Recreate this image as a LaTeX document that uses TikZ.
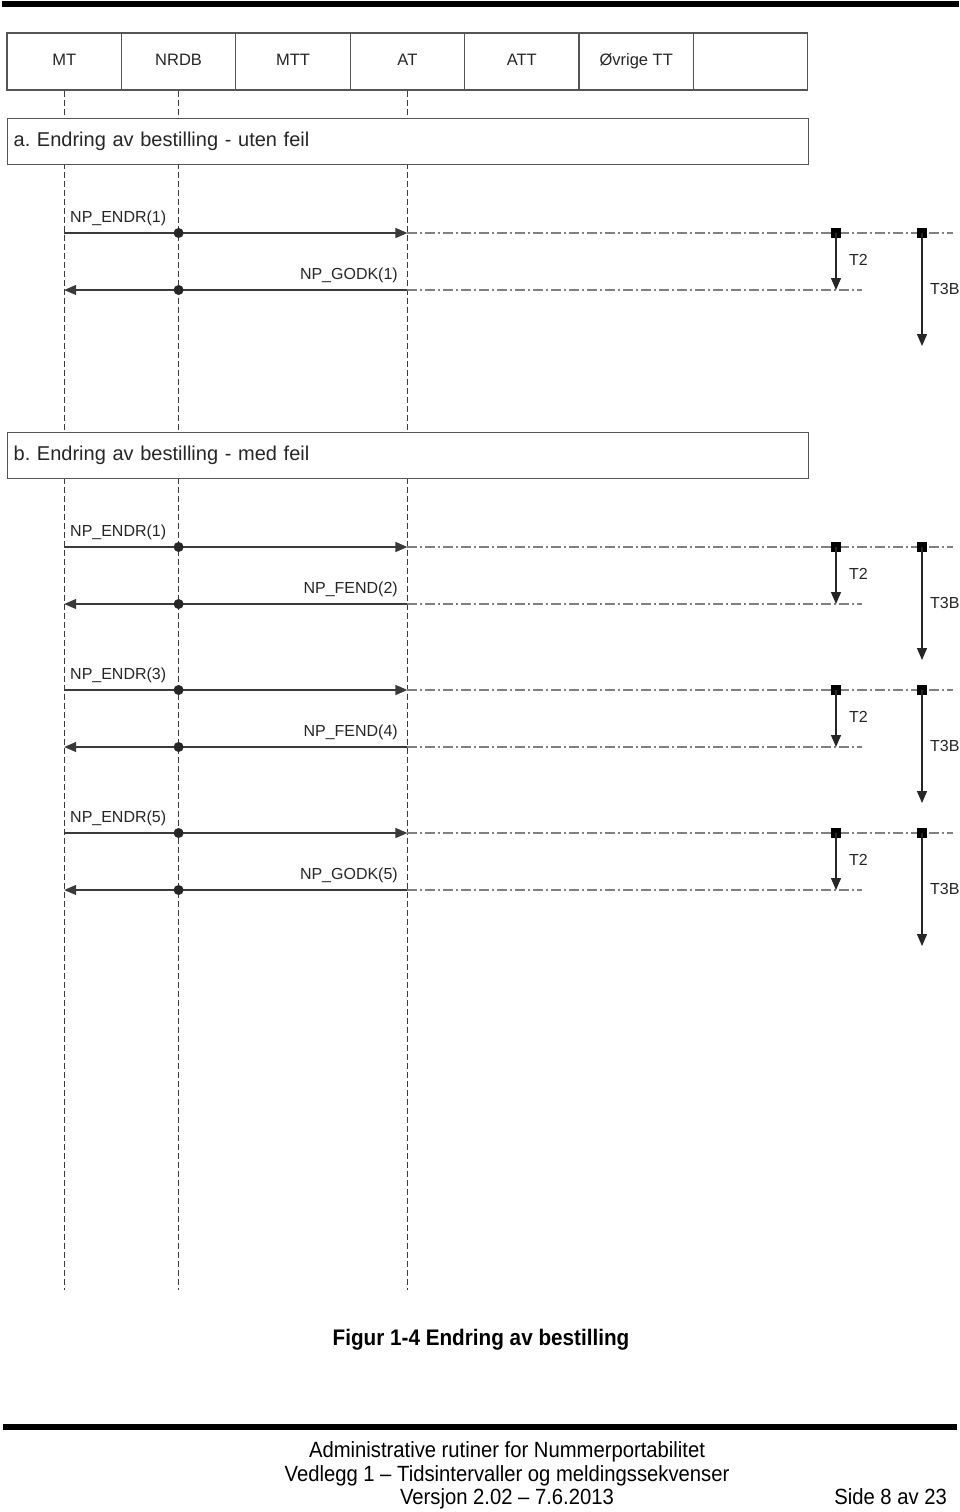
\documentclass[tikz,border=0pt]{standalone}
\usepackage{fontspec}
\setmainfont{Liberation Sans}
\newfontfamily\narrowfont{Liberation Sans}[FakeStretch=0.92]
\usetikzlibrary{arrows.meta}
\definecolor{ln}{HTML}{3A3A3A}
\definecolor{bx}{HTML}{555555}
\definecolor{txt}{HTML}{262626}
\frenchspacing
\begin{document}
\begin{tikzpicture}[x=1pt,y=-1pt,
 hdr/.style={draw=bx,line width=1.3pt,minimum width=114.4pt,minimum height=57pt,inner sep=0pt,text height=12pt,text depth=3.5pt,font=\fontsize{16.5}{16.5}\selectfont,text=txt},
 sect/.style={draw=bx,line width=1.3pt,fill=white,minimum height=46pt,text width=789pt,align=left,inner xsep=6pt,inner ysep=0pt,font=\fontsize{20}{20}\selectfont,text=txt},
 life/.style={draw=ln,line width=1.4pt,dash pattern=on 6pt off 3pt},
 msg/.style={draw=ln,line width=1.4pt,-{Triangle[length=12pt,width=10pt]}},
 dd/.style={draw=gray,line width=1.2pt,dash pattern=on 10pt off 3pt on 2pt off 3pt},
 dotn/.style={circle,fill=black!85,inner sep=0pt,minimum size=10pt},
 sqn/.style={rectangle,fill=black,inner sep=0pt,minimum size=10pt},
 tmr/.style={draw=black!85,line width=1.3pt,-{Triangle[length=12pt,width=10pt]}},
 lbl/.style={font=\fontsize{16}{16}\selectfont,inner sep=0pt,text=txt},
 tlbl/.style={font=\fontsize{16}{16}\selectfont,inner sep=0pt,text=txt,anchor=west},
 foot/.style={font=\narrowfont\fontsize{22}{22}\selectfont,inner sep=0pt,text height=16pt,text depth=4.5pt}
]
\useasboundingbox (0,0) rectangle (960,1512);
\fill[white] (0,0) rectangle (960,1512);
% page bars
\fill[black] (2,1) rectangle (959,7);
\fill[black] (3,1424) rectangle (957,1430);
% header
\node[hdr] (h1) at (64.2,61.5) {MT};
\node[hdr] (h2) at (178.6,61.5) {NRDB};
\node[hdr] (h3) at (293.0,61.5) {MTT};
\node[hdr] (h4) at (407.4,61.5) {AT};
\node[hdr] (h5) at (521.8,61.5) {ATT};
\node[hdr] (h6) at (636.2,61.5) {Øvrige TT};
\node[hdr] (h7) at (750.6,61.5) {};
% lifelines
\coordinate (e1) at (64.2,1290);
\coordinate (e2) at (178.6,1290);
\coordinate (e4) at (407.4,1290);
\draw[life] (h1.south) -- (e1);
\draw[life] (h2.south) -- (e2);
\draw[life] (h4.south) -- (e4);
% sections
\node[sect,anchor=north west] (secA) at (7,118) {a. Endring av bestilling - uten feil};
\node[sect,anchor=north west] (secB) at (7,432) {b. Endring av bestilling - med feil};
% messages
\foreach \i/\ya/\yb/\la/\lb in {1/233/290/NP\_ENDR(1)/NP\_GODK(1),2/547/604/NP\_ENDR(1)/NP\_FEND(2),3/690/747/NP\_ENDR(3)/NP\_FEND(4),4/833/890/NP\_ENDR(5)/NP\_GODK(5)}{
  \coordinate (ma\i) at (64.2,\ya);
  \coordinate (aa\i) at (407.4,\ya);
  \coordinate (mb\i) at (64.2,\yb);
  \coordinate (ab\i) at (407.4,\yb);
  \coordinate (da\i) at (953,\ya);
  \coordinate (db\i) at (862,\yb);
  \coordinate (tb\i) at (836,\yb);
  \coordinate (te\i) at (922,\ya+113);
  \draw[dd] (aa\i) -- (da\i);
  \draw[dd] (ab\i) -- (db\i);
  \draw[msg] (ma\i) -- (aa\i);
  \draw[msg] (ab\i) -- (mb\i);
  \node[dotn] (na\i) at (178.6,\ya) {};
  \node[dotn] (nb\i) at (178.6,\yb) {};
  \node[lbl,anchor=west] (la\i) at (70,\ya-14.5) {\la};
  \node[lbl,anchor=east] (lb\i) at (398,\yb-14.5) {\lb};
  \node[sqn] (s2\i) at (836,\ya) {};
  \node[sqn] (s3\i) at (922,\ya) {};
  \draw[tmr] (s2\i.center) -- (tb\i);
  \draw[tmr] (s3\i.center) -- (te\i);
  \node[tlbl] (t2\i) at (849,\ya+27) {T2};
  \node[tlbl] (t3\i) at (930,\ya+56) {T3B};
}
% caption and footer
\node[font=\narrowfont\bfseries\fontsize{22.5}{22.5}\selectfont,inner sep=0pt] (cap) at (481,1340) {Figur 1-4 Endring av bestilling};
\node[foot] (f1) at (507,1452) {Administrative rutiner for Nummerportabilitet};
\node[foot] (f2) at (507,1476) {Vedlegg 1 – Tidsintervaller og meldingssekvenser};
\node[foot] (f3) at (507,1499) {Versjon 2.02 – 7.6.2013};
\node[foot,anchor=east] (f4) at (947,1499) {Side 8 av 23};
\end{tikzpicture}
\end{document}
